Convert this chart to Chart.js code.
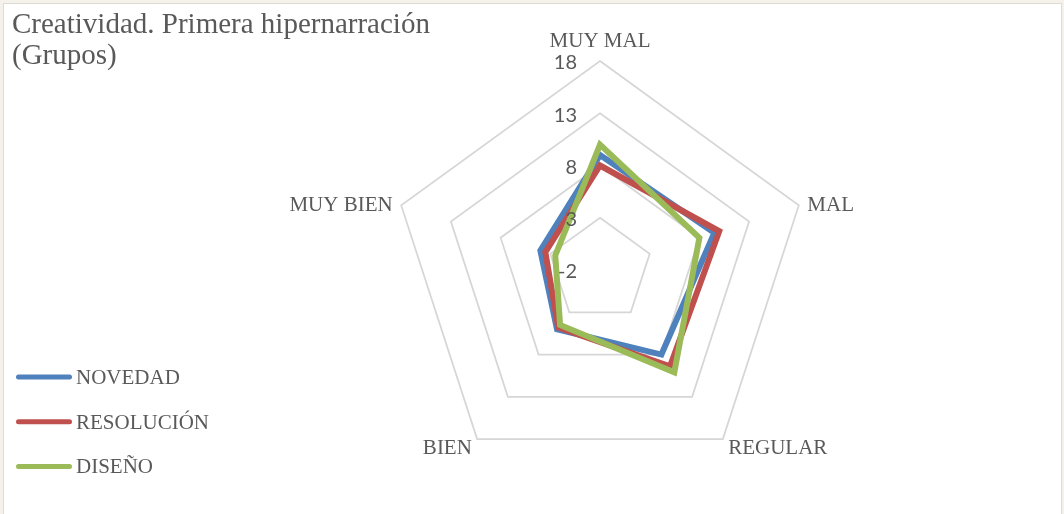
<!DOCTYPE html>
<html>
<head>
<meta charset="utf-8">
<script src="https://cdn.jsdelivr.net/npm/chart.js@4"></script>
<style>
  body { margin: 0; background: #f4f2ea; width: 1064px; height: 514px; overflow: hidden; position: relative; }
  .frame { position: absolute; left: 3px; top: 3px; width: 1057px; height: 520px; background: #fff; border: 1px solid #dedbd0; }
  #chart { position: absolute; left: 0; top: 0; }
</style>
</head>
<body>
<div class="frame"></div>
<canvas id="chart" width="1064" height="514"></canvas>
<script>
// Chart data
const titleLines = ['Creatividad. Primera hipernarración', '(Grupos)'];
const axisLabels = ['MUY MAL', 'MAL', 'REGULAR', 'BIEN', 'MUY BIEN'];
const tickValues = [-2, 3, 8, 13, 18];
const seriesNames = ['NOVEDAD', 'RESOLUCIÓN', 'DISEÑO'];
const novedad = [9, 9.5, 8, 5, 4];
const resolucion = [8, 10, 9.4, 4.8, 3.5];
const diseno = [10, 8, 10.1, 4.5, 2.5];
const seriesColors = ['#4f81bd', '#c0504d', '#9bbb59'];

const textColor = '#595959';

// Title, axis labels, tick labels and legend drawn the way Excel places them
const excelLabels = {
  id: 'excelLabels',
  afterDraw(chart) {
    const ctx = chart.ctx;
    const scale = chart.scales.r;
    ctx.save();
    ctx.fillStyle = textColor;

    // title
    ctx.font = '29px "Liberation Serif"';
    ctx.textAlign = 'left';
    ctx.textBaseline = 'alphabetic';
    titleLines.forEach((line, i) => ctx.fillText(line, 12, 33 + i * 31));

    // category labels outside the outer ring
    ctx.font = '21px "Liberation Serif"';
    axisLabels.forEach((label, i) => {
      const p = scale.getPointPosition(i, scale.drawingArea + 9);
      if (Math.abs(p.x - scale.xCenter) < 1) {
        ctx.textAlign = 'center';
        ctx.fillText(label, p.x, p.y - 5);
      } else {
        ctx.textAlign = p.x > scale.xCenter ? 'left' : 'right';
        ctx.fillText(label, p.x, p.y + 8);
      }
    });

    // tick labels left of the vertical axis
    ctx.font = '20px Lato';
    ctx.textAlign = 'right';
    ctx.textBaseline = 'middle';
    scale.ticks.forEach(tick => {
      const y = scale.yCenter - scale.getDistanceFromCenterForValue(tick.value);
      ctx.fillText(String(tick.value), scale.xCenter - 23, y + 2);
    });

    // legend
    ctx.font = '21px "Liberation Serif"';
    ctx.textAlign = 'left';
    ctx.textBaseline = 'alphabetic';
    ctx.lineCap = 'round';
    ctx.lineWidth = 5;
    chart.data.datasets.forEach((ds, i) => {
      const y = 377 + i * 44.7;
      ctx.strokeStyle = ds.borderColor;
      ctx.beginPath();
      ctx.moveTo(18.5, y);
      ctx.lineTo(69.5, y);
      ctx.stroke();
      ctx.fillText(ds.label, 76, y + 7);
    });

    ctx.restore();
  }
};

const seriesData = [novedad, resolucion, diseno];

new Chart(document.getElementById('chart'), {
  type: 'radar',
  data: {
    labels: axisLabels,
    datasets: seriesData.map((values, i) => ({
      label: seriesNames[i],
      data: values,
      borderColor: seriesColors[i],
      backgroundColor: 'transparent',
      borderWidth: 6,
      borderJoinStyle: 'miter',
      pointRadius: 0,
      fill: false,
      // later series on top, like Excel
      order: seriesData.length - i
    }))
  },
  options: {
    responsive: false,
    animation: false,
    layout: {
      padding: { left: 391, right: 255, top: 61, bottom: 35 }
    },
    plugins: {
      legend: { display: false },
      title: { display: false },
      tooltip: { enabled: false }
    },
    scales: {
      r: {
        min: tickValues[0],
        max: tickValues[tickValues.length - 1],
        ticks: {
          stepSize: tickValues[1] - tickValues[0],
          display: false
        },
        grid: {
          color: '#d6d6d6',
          lineWidth: 1.75
        },
        angleLines: { display: false },
        pointLabels: { display: false }
      }
    }
  },
  plugins: [excelLabels]
});
</script>
</body>
</html>
